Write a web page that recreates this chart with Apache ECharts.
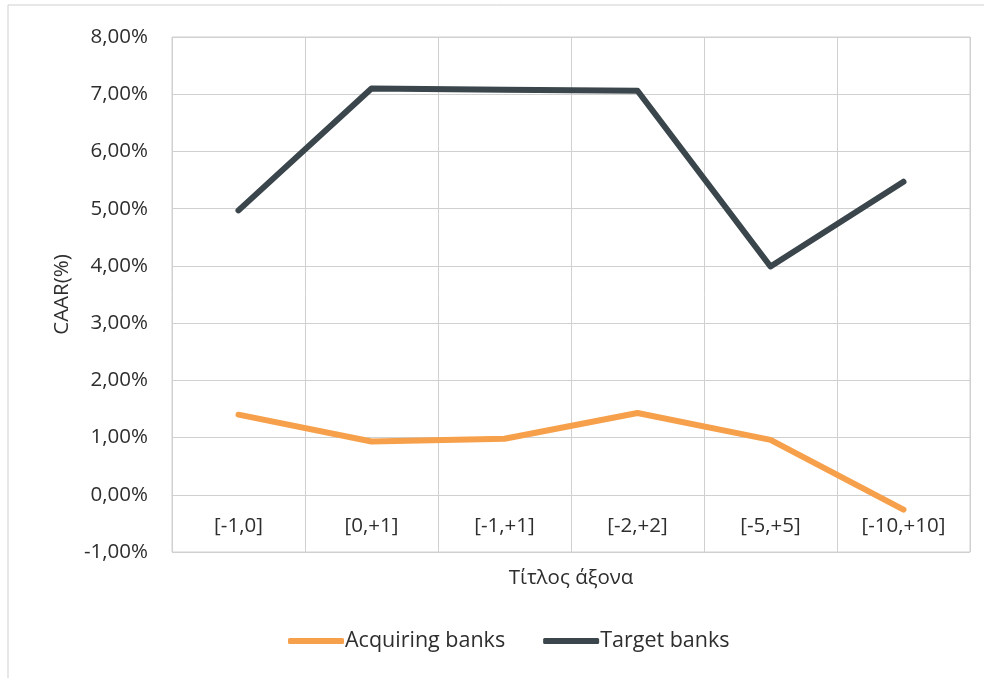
<!DOCTYPE html>
<html>
<head>
<meta charset="utf-8">
<script src="https://cdn.jsdelivr.net/npm/echarts@6/dist/echarts.min.js"></script>
<style>
  html, body { margin: 0; padding: 0; background: #fff; }
  #chart { width: 984px; height: 678px; }
</style>
</head>
<body>
<div id="chart"></div>
<script>
const categories = ['[-1,0]', '[0,+1]', '[-1,+1]', '[-2,+2]', '[-5,+5]', '[-10,+10]'];
const acquiringBanks = [1.40, 0.93, 0.98, 1.43, 0.96, -0.26];
const targetBanks = [4.97, 7.10, 7.08, 7.06, 3.99, 5.47];
const yTicks = { min: -1, max: 8, interval: 1 };

const font = '"Open Sans", "Noto Sans", sans-serif';
const gridColor = '#d0d0d0';
const textColor = '#2e2e2e';
const fs = 20.5;

const chart = echarts.init(document.getElementById('chart'));
chart.setOption({
  animation: false,
  textStyle: { fontFamily: font },
  graphic: [{
    type: 'rect',
    shape: { x: 8, y: 5, width: 990, height: 700 },
    style: { fill: 'none', stroke: '#cfcfcf', lineWidth: 1 }
  }],
  grid: { left: 172, right: 14, top: 37, bottom: 126, show: true, borderColor: gridColor, borderWidth: 1 },
  legend: {
    bottom: 21,
    left: 283,
    icon: 'roundRect',
    itemWidth: 56,
    itemHeight: 6,
    itemGap: 38,
    textStyle: { fontFamily: font, fontSize: 21.5, color: textColor, padding: [0, 0, 0, -4] },
    data: ['Acquiring banks', 'Target banks']
  },
  xAxis: {
    type: 'category',
    data: categories,
    boundaryGap: true,
    // axis sits on the 0 % line: one interval (515 / 9 px) above the grid bottom
    offset: -57.2,
    name: 'Τίτλος άξονα',
    nameLocation: 'middle',
    nameGap: 73,
    nameTextStyle: { fontSize: fs, color: textColor, fontFamily: font },
    axisLine: { onZero: false, lineStyle: { color: gridColor } },
    axisTick: { show: false },
    axisLabel: { fontSize: fs, color: textColor, margin: 21, fontFamily: font },
    splitLine: { show: true, lineStyle: { color: gridColor } }
  },
  yAxis: {
    type: 'value',
    min: yTicks.min,
    max: yTicks.max,
    interval: yTicks.interval,
    name: 'CAAR(%)',
    nameLocation: 'middle',
    nameGap: 98,
    nameTextStyle: { fontSize: fs, color: textColor, fontFamily: font },
    axisLine: { show: false },
    axisTick: { show: false },
    axisLabel: {
      fontSize: fs,
      color: textColor,
      margin: 24,
      fontFamily: font,
      formatter: v => v.toFixed(2).replace('.', ',') + '%'
    },
    splitLine: { show: true, lineStyle: { color: gridColor } }
  },
  series: [
    {
      name: 'Acquiring banks',
      type: 'line',
      data: acquiringBanks,
      symbol: 'none',
      color: '#f7a04b',
      lineStyle: { width: 6, color: '#f7a04b', cap: 'round', join: 'round' },
      z: 3
    },
    {
      name: 'Target banks',
      type: 'line',
      data: targetBanks,
      symbol: 'none',
      color: '#3a464b',
      lineStyle: { width: 6, color: '#3a464b', cap: 'round', join: 'round' },
      z: 3
    }
  ]
});
</script>
</body>
</html>
